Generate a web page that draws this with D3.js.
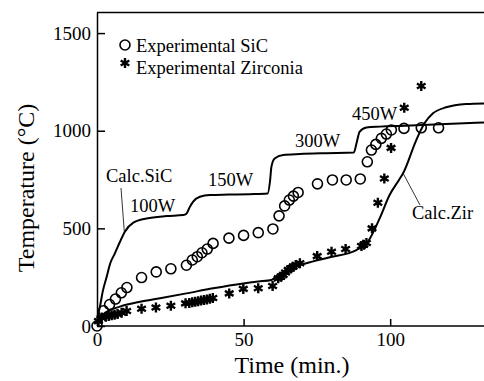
<!DOCTYPE html>
<html><head><meta charset="utf-8">
<script src="https://cdn.jsdelivr.net/npm/d3@7"></script>
<style>body{margin:0;background:#fff}svg{display:block}text{font-family:"Liberation Serif","Times New Roman",serif;fill:#000}</style>
</head><body><svg id="c" width="484" height="381"></svg>
<script>
const sicTime = [0,2.2,4.3,6.3,8.3,10.2,15.2,20.2,25.2,30.5,32.5,34.2,35.8,37.6,39.6,45,50,55,60,62.1,64,65.6,67,68.6,75.2,80.3,85,89.8,92.2,93.6,95.1,97,98.7,100.4,104.7,110.6,116.5];
const sicTemp = [0,78,110,138,170,197,248,277,293,311,338,355,375,394,423,450,464,478,497,564,615,645,665,684,728,748,748,753,841,901,930,961,983,1004,1012,1015,1015];
const zirTime = [0.5,1.6,3,4,5,6,7,8.4,10.1,15.2,20.1,25.2,30.2,31.5,32.5,33.5,34.5,35.5,36.5,37.5,38.5,39.5,45.1,49.9,55,59.9,61.8,62.7,63.5,64.3,65.2,66,66.9,67.8,69.2,75.1,80,84.8,90.2,91,91.9,93.8,95.8,98,100.3,104.8,110.6];
const zirTemp = [25,43,47,51,55,58,62,68,77,88,95,104,116,118,121,124,127,130,133,136,139,143,167,190,193,205,244,252,261,274,287,295,304,312,321,358,380,394,410,416,425,500,631,755,912,1118,1229];
const calcSicTime = [0,1,2,3.3,4.5,6.1,7.8,9.5,12.4,16.9,23.7,29.4,30.5,31.5,32.8,35.1,38.5,45,52,58.2,59,59.5,60.6,63.5,69.2,78,87.6,88.5,89.6,91.9,96.4,105,115,132];
const calcSicTemp = [40,99,180,252,320,372,430,483,529,551,563,568,575,605,637,662,671,673,675,678,740,816,858,876,881,885,888,935,995,1016,1021,1025,1032,1042];
const calcZirTime = [0,0.5,3.3,7.8,14.7,21.5,30.5,39.6,49.9,55,59.5,61.8,65.8,71.4,79.4,88.5,92.4,96.4,99.8,103,104.4,108.9,111.7,114.6,119.1,125.9,132];
const calcZirTemp = [30,39,73,99,124,142,167,193,218,228,236,261,295,321,352,389,432,551,671,748,782,952,1038,1089,1120,1137,1140];
const xTicks = [0,50,100];
const yTicks = [0,500,1000,1500];
const powerLabels = ["100W","150W","300W","450W"];
const legendLabels = ["Experimental SiC","Experimental Zirconia"];

const svg = d3.select("#c");
const x = d3.scaleLinear().domain([0,132]).range([97,484]);
const y = d3.scaleLinear().domain([0,1608]).range([326,12]);

svg.append("line").attr("x1",97).attr("x2",484).attr("y1",12.5).attr("y2",12.5).attr("stroke","#000").attr("stroke-width",1.5);

const xa = svg.append("g").attr("transform","translate(0,326)")
  .call(d3.axisBottom(x).tickValues(xTicks).tickFormat(d3.format("d")).tickSizeInner(-7).tickSizeOuter(0).tickPadding(7));
const ya = svg.append("g").attr("transform","translate(97,0)")
  .call(d3.axisLeft(y).tickValues(yTicks).tickFormat(d3.format("d")).tickSizeInner(-8).tickSizeOuter(0).tickPadding(6));
[xa,ya].forEach(g=>{
  g.selectAll("path,line").attr("stroke","#000").attr("stroke-width",1.5);
  g.selectAll("text").attr("font-size",19).attr("font-family","Liberation Serif");
});
xa.select(".domain").attr("d","M97,0H484");

const line = d3.line().x(d=>x(d[0])).y(d=>y(d[1])).curve(d3.curveMonotoneX);
svg.append("path").attr("d",line(d3.zip(calcSicTime,calcSicTemp))).attr("fill","none").attr("stroke","#000").attr("stroke-width",2);
svg.append("path").attr("d",line(d3.zip(calcZirTime,calcZirTemp))).attr("fill","none").attr("stroke","#000").attr("stroke-width",2);

svg.append("g").selectAll("circle").data(d3.zip(sicTime,sicTemp)).join("circle")
  .attr("cx",d=>x(d[0])).attr("cy",d=>y(d[1])).attr("r",5)
  .attr("fill","none").attr("stroke","#000").attr("stroke-width",1.6);

const star = d3.symbol().type(d3.symbolAsterisk).size(70);
svg.append("g").selectAll("path").data(d3.zip(zirTime,zirTemp)).join("path")
  .attr("transform",d=>`translate(${x(d[0])},${y(d[1])})`).attr("d",star)
  .attr("fill","none").attr("stroke","#000").attr("stroke-width",2.4);

svg.append("circle").attr("cx",125).attr("cy",45).attr("r",5).attr("fill","none").attr("stroke","#000").attr("stroke-width",1.6);
svg.append("path").attr("transform","translate(125,63)").attr("d",star).attr("fill","none").attr("stroke","#000").attr("stroke-width",2.4);
svg.append("text").attr("x",136).attr("y",52).attr("font-size",18.5).text(legendLabels[0]);
svg.append("text").attr("x",136).attr("y",74).attr("font-size",18.5).text(legendLabels[1]);

const plPos = [[130,212],[208,186],[295,147],[352,120]];
powerLabels.forEach((t,i)=>svg.append("text").attr("x",plPos[i][0]).attr("y",plPos[i][1]).attr("font-size",18.5).text(t));

svg.append("text").attr("x",106).attr("y",182).attr("font-size",18.5).text("Calc.SiC");
svg.append("line").attr("x1",121).attr("y1",188).attr("x2",x(9.3)).attr("y2",y(485)).attr("stroke","#000").attr("stroke-width",0.8);
svg.append("text").attr("x",412).attr("y",219).attr("font-size",18.5).text("Calc.Zir");
svg.append("line").attr("x1",420).attr("y1",205).attr("x2",x(104.3)).attr("y2",y(785)).attr("stroke","#000").attr("stroke-width",0.8);

svg.append("text").attr("x",292).attr("y",373).attr("text-anchor","middle").attr("font-size",24).text("Time (min.)");
svg.append("text").attr("transform","translate(34,188) rotate(-90)").attr("text-anchor","middle").attr("font-size",24).text("Temperature (°C)");
</script></body></html>
